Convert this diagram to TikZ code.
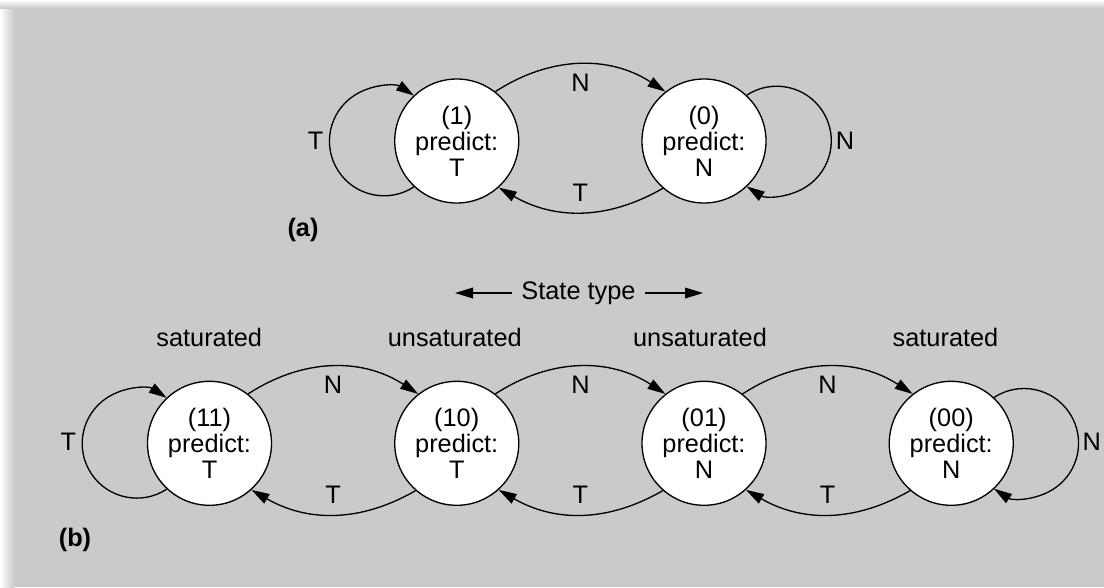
\documentclass[tikz,border=0pt]{standalone}
\usepackage{fontspec}
\setmainfont{Liberation Sans}
\usetikzlibrary{arrows.meta}
\definecolor{bggray}{RGB}{202,202,202}
\begin{document}
\begin{tikzpicture}[x=0.75pt,y=0.75pt,
  every node/.style={font=\fontsize{19}{19.5}\selectfont},
  stnode/.style={circle,draw,fill=white,minimum size=93pt,inner sep=0pt,align=center,line width=1pt},
  arr/.style={line width=1pt,-{Triangle[length=13.5pt,width=8pt]}},
  lbl/.style={inner sep=0pt},
  part/.style={inner sep=0pt,font=\fontsize{19}{19.5}\selectfont\bfseries}
]
% background
\useasboundingbox (0,0) rectangle (1104,-587);
\fill[bggray] (0,0) rectangle (1104,-587);
\shade[left color=white,right color=bggray] (0,0) rectangle (14,-587);
\shade[top color=white,bottom color=bggray] (0,0) rectangle (1104,-8);

% ---------------- (a) ----------------
\node[stnode] (n1) at (456.75,-141) {(1)\\predict:\\T};
\node[stnode] (n0) at (704,-141) {(0)\\predict:\\N};
\draw[arr] (n1.227.5) arc[start angle=-56.7,end angle=-303.3,radius=54.6];
\draw[arr] (n0.47.5) arc[start angle=123.3,end angle=-123.3,radius=54.6];
\draw[arr] (n1.52) to[out=33,in=147] (n0.128);
\draw[arr] (n0.229.5) to[out=-150,in=-30] (n1.-48);
\node[lbl] (la1) at (315.5,-141) {T};
\node[lbl] (la2) at (845,-141) {N};
\node[lbl] (la3) at (580.4,-82.7) {N};
\node[lbl] (la4) at (580.4,-192.7) {T};
\node[part] (pa) at (303,-230) {(a)};

% ---------------- (b) ----------------
\node[inner xsep=7pt,inner ysep=0pt] (st) at (578.5,-293) {State type};
\coordinate (stl) at (455,-293);
\coordinate (str) at (703,-293);
\draw[arr] (st.west) -- (stl);
\draw[arr] (st.east) -- (str);

\node[lbl] (t1) at (209.2,-337) {saturated};
\node[lbl] (t2) at (454.8,-337) {unsaturated};
\node[lbl] (t3) at (700,-337) {unsaturated};
\node[lbl] (t4) at (945.5,-337) {saturated};

\node[stnode] (n11) at (209.5,-443.3) {(11)\\predict:\\T};
\node[stnode] (n10) at (456.75,-443.3) {(10)\\predict:\\T};
\node[stnode] (n01) at (704,-443.3) {(01)\\predict:\\N};
\node[stnode] (n00) at (951.25,-443.3) {(00)\\predict:\\N};

\draw[arr] (n11.227.5) arc[start angle=-56.7,end angle=-303.3,radius=54.6];
\draw[arr] (n00.47.5) arc[start angle=123.3,end angle=-123.3,radius=54.6];

\draw[arr] (n11.52) to[out=33,in=147] (n10.128);
\draw[arr] (n10.52) to[out=33,in=147] (n01.128);
\draw[arr] (n01.52) to[out=33,in=147] (n00.128);

\draw[arr] (n10.229.5) to[out=-150,in=-30] (n11.-48);
\draw[arr] (n01.229.5) to[out=-150,in=-30] (n10.-48);
\draw[arr] (n00.229.5) to[out=-150,in=-30] (n01.-48);

\node[lbl] (lb1) at (68.3,-441.7) {T};
\node[lbl] (lb2) at (1091.7,-441.7) {N};
\node[lbl] (lb3) at (333.1,-385) {N};
\node[lbl] (lb4) at (580.4,-385) {N};
\node[lbl] (lb5) at (827.6,-385) {N};
\node[lbl] (lb6) at (333.1,-495) {T};
\node[lbl] (lb7) at (580.4,-495) {T};
\node[lbl] (lb8) at (827.6,-495) {T};

\node[part] (pb) at (75,-540) {(b)};
\end{tikzpicture}
\end{document}
